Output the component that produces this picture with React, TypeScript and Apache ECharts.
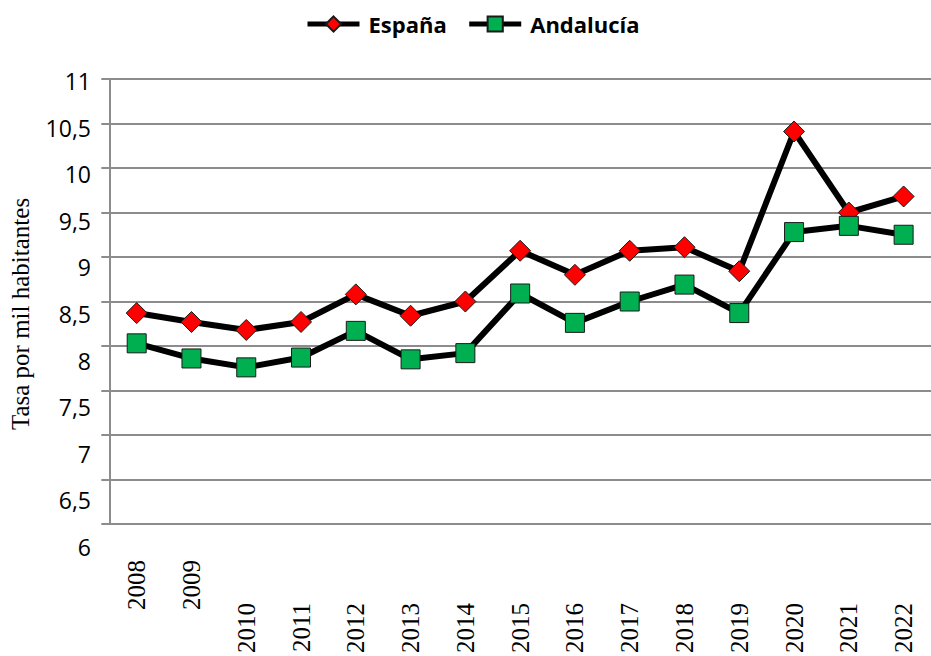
import React, { useEffect, useRef } from "react";
import * as echarts from "echarts";

const years = ["2008", "2009", "2010", "2011", "2012", "2013", "2014", "2015", "2016", "2017", "2018", "2019", "2020", "2021", "2022"];
const espana = [8.37, 8.27, 8.18, 8.27, 8.58, 8.34, 8.5, 9.07, 8.8, 9.07, 9.11, 8.84, 10.41, 9.5, 9.68];
const andalucia = [8.03, 7.86, 7.76, 7.87, 8.17, 7.85, 7.92, 8.59, 8.26, 8.5, 8.69, 8.37, 9.28, 9.35, 9.25];
const seriesNames = ["España", "Andalucía"];
const yAxisTitle = "Tasa por mil habitantes";

const SERIF = "'Liberation Serif', 'Times New Roman', serif";
const SANS = "'Open Sans', 'Noto Sans', sans-serif";
const GRAY = "#8c8c8c";

export default function App() {
  const ref = useRef<HTMLDivElement>(null);
  useEffect(() => {
    if (!ref.current) return;
    const chart = echarts.init(ref.current, undefined, { renderer: "svg" });
    chart.setOption({
      animation: false,
      backgroundColor: "#fff",
      legend: {
        top: 8,
        left: 300,
        itemWidth: 52,
        itemHeight: 19,
        itemGap: 20,
        lineStyle: { color: "#000", width: 5 },
        textStyle: { fontFamily: SANS, fontWeight: "bold", fontSize: 22, color: "#000", padding: [0, 0, 0, 4] },
        data: seriesNames,
      },
      grid: [
        { left: 109.3, right: -9.3, top: 79, bottom: 130.3, containLabel: false },
        { left: 109.3, right: -9.3, top: 81, bottom: 109, containLabel: false },
      ],
      xAxis: [
        {
          type: "category",
          gridIndex: 0,
          data: years,
          boundaryGap: true,
          axisLine: { lineStyle: { color: GRAY, width: 2 } },
          axisTick: { show: false },
          axisLabel: {
            rotate: 90,
            margin: 36,
            interval: (i: number) => i < 2,
            fontFamily: SERIF,
            fontSize: 25,
            color: "#000",
          },
        },
        {
          type: "category",
          gridIndex: 0,
          data: years,
          position: "bottom",
          boundaryGap: true,
          axisLine: { show: false },
          axisTick: { show: false },
          axisLabel: {
            rotate: 90,
            margin: 79,
            interval: (i: number) => i >= 2,
            fontFamily: SERIF,
            fontSize: 25,
            color: "#000",
          },
        },
        {
          type: "category",
          gridIndex: 1,
          data: years,
          show: false,
        },
      ],
      yAxis: [
        {
          type: "value",
          gridIndex: 0,
          min: 6,
          max: 11,
          interval: 0.5,
          axisLine: { show: true, lineStyle: { color: GRAY, width: 2 } },
          axisTick: { show: true, length: 8, lineStyle: { color: GRAY, width: 2 } },
          axisLabel: { show: false },
          splitLine: { show: true, lineStyle: { color: GRAY, width: 2 } },
        },
        {
          type: "value",
          gridIndex: 1,
          min: 6,
          max: 11,
          interval: 0.5,
          axisLine: { show: false },
          axisTick: { show: false },
          splitLine: { show: false },
          axisLabel: {
            margin: 24,
            fontFamily: SANS,
            fontSize: 23,
            color: "#000",
            formatter: (v: number) => String(v).replace(".", ","),
          },
          name: yAxisTitle,
          nameLocation: "middle",
          nameGap: 82,
          nameRotate: 90,
          nameTextStyle: { fontFamily: SERIF, fontSize: 25, color: "#000" },
        },
      ],
      series: [
        {
          name: seriesNames[0],
          type: "line",
          xAxisIndex: 0,
          yAxisIndex: 0,
          data: espana,
          symbol: "diamond",
          symbolSize: 21,
          lineStyle: { color: "#000", width: 6 },
          itemStyle: { color: "#ff0000", borderColor: "#1a1a1a", borderWidth: 1 },
        },
        {
          name: seriesNames[1],
          type: "line",
          xAxisIndex: 0,
          yAxisIndex: 0,
          data: andalucia,
          symbol: "rect",
          symbolSize: 19,
          lineStyle: { color: "#000", width: 6 },
          itemStyle: { color: "#00b050", borderColor: "#1a1a1a", borderWidth: 1 },
        },
      ],
    });
    return () => chart.dispose();
  }, []);
  return <div ref={ref} style={{ position: "absolute", left: 0, top: 0, width: 931, height: 656 }} />;
}
